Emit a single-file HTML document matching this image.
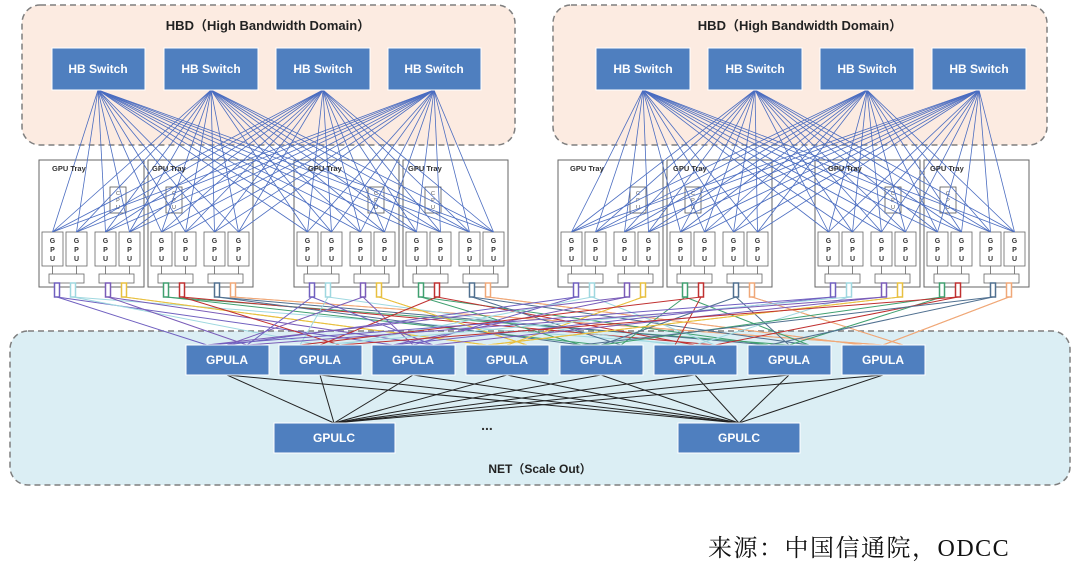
<!DOCTYPE html>
<html><head><meta charset="utf-8"><style>
body{margin:0;background:#fff;width:1080px;height:563px;overflow:hidden;font-family:"Liberation Sans","Noto Sans CJK SC",sans-serif}
</style></head><body>
<svg id="s" width="1080" height="563" xmlns="http://www.w3.org/2000/svg" font-family="Liberation Sans, Noto Sans CJK SC, sans-serif">
<rect x="22" y="5" width="493" height="140" rx="18" fill="#fcebe1" stroke="#7f7f7f" stroke-width="1.5" stroke-dasharray="6,4"/>
<rect x="553" y="5" width="494" height="140" rx="18" fill="#fcebe1" stroke="#7f7f7f" stroke-width="1.5" stroke-dasharray="6,4"/>
<text x="268" y="30" font-size="13" font-weight="bold" text-anchor="middle" fill="#222">HBD（High Bandwidth Domain）</text>
<text x="800" y="30" font-size="13" font-weight="bold" text-anchor="middle" fill="#222">HBD（High Bandwidth Domain）</text>
<rect x="10" y="331" width="1060" height="154" rx="18" fill="#dbeef4" stroke="#7f7f7f" stroke-width="1.5" stroke-dasharray="6,4"/>
<g id="trays"></g>
<g id="lines"></g>
<g id="boxes" font-size="12" font-weight="bold" fill="#fff" text-anchor="middle">
<rect x="52" y="48" width="93" height="42" fill="#4f7fbf" stroke="#fff"/><text x="98" y="73">HB Switch</text>
<rect x="164" y="48" width="94" height="42" fill="#4f7fbf" stroke="#fff"/><text x="211" y="73">HB Switch</text>
<rect x="276" y="48" width="94" height="42" fill="#4f7fbf" stroke="#fff"/><text x="323" y="73">HB Switch</text>
<rect x="388" y="48" width="93" height="42" fill="#4f7fbf" stroke="#fff"/><text x="434" y="73">HB Switch</text>
<rect x="596" y="48" width="94" height="42" fill="#4f7fbf" stroke="#fff"/><text x="643" y="73">HB Switch</text>
<rect x="708" y="48" width="94" height="42" fill="#4f7fbf" stroke="#fff"/><text x="755" y="73">HB Switch</text>
<rect x="820" y="48" width="94" height="42" fill="#4f7fbf" stroke="#fff"/><text x="867" y="73">HB Switch</text>
<rect x="932" y="48" width="94" height="42" fill="#4f7fbf" stroke="#fff"/><text x="979" y="73">HB Switch</text>
<rect x="186" y="345" width="83" height="30" fill="#4f7fbf" stroke="#fff"/><text x="227" y="364">GPULA</text>
<rect x="279" y="345" width="83" height="30" fill="#4f7fbf" stroke="#fff"/><text x="320" y="364">GPULA</text>
<rect x="372" y="345" width="83" height="30" fill="#4f7fbf" stroke="#fff"/><text x="413" y="364">GPULA</text>
<rect x="466" y="345" width="83" height="30" fill="#4f7fbf" stroke="#fff"/><text x="507" y="364">GPULA</text>
<rect x="560" y="345" width="83" height="30" fill="#4f7fbf" stroke="#fff"/><text x="601" y="364">GPULA</text>
<rect x="654" y="345" width="83" height="30" fill="#4f7fbf" stroke="#fff"/><text x="695" y="364">GPULA</text>
<rect x="748" y="345" width="83" height="30" fill="#4f7fbf" stroke="#fff"/><text x="789" y="364">GPULA</text>
<rect x="842" y="345" width="83" height="30" fill="#4f7fbf" stroke="#fff"/><text x="883" y="364">GPULA</text>
<rect x="274" y="423" width="121" height="30" fill="#4f7fbf" stroke="#fff"/><text x="334" y="442">GPULC</text>
<rect x="678" y="423" width="122" height="30" fill="#4f7fbf" stroke="#fff"/><text x="739" y="442">GPULC</text>
</g>
<text x="487" y="430" font-size="14" font-weight="bold" fill="#333" text-anchor="middle">...</text>
<text x="540" y="473" font-size="12" font-weight="bold" fill="#222" text-anchor="middle">NET（Scale Out）</text>
<g font-size="7.5" font-weight="bold" fill="#333">
<text x="52" y="171">GPU Tray</text><text x="152" y="171">GPU Tray</text><text x="308" y="171">GPU Tray</text><text x="408" y="171">GPU Tray</text>
<text x="570" y="171">GPU Tray</text><text x="673" y="171">GPU Tray</text><text x="828" y="171">GPU Tray</text><text x="930" y="171">GPU Tray</text>
</g>
<text x="708" y="556" font-size="24" letter-spacing="1.5" fill="#111" font-family="Liberation Serif, Noto Serif CJK SC, serif">来源：中国信通院，ODCC</text>
</svg>
<script>
var NS="http://www.w3.org/2000/svg";
function el(p,t,a){var e=document.createElementNS(NS,t);for(var k in a)e.setAttribute(k,a[k]);p.appendChild(e);return e;}
var trays=document.getElementById('trays'),lines=document.getElementById('lines');
var T=[[39,71],[148,18],[294,74],[403,22],[558,72],[667,18],[815,70],[924,16]];
var gpuOff=[3,27,56,80],gpus=[];
T.forEach(function(t,i){
 var x=t[0];
 el(trays,'rect',{x:x,y:160,width:105,height:127,fill:'#fff',stroke:'#666','stroke-width':1});
 el(trays,'rect',{x:x+t[1],y:187,width:16,height:26,fill:'#fff',stroke:'#555','stroke-width':0.8});
 ['C','P','U'].forEach(function(c,j){var tx=el(trays,'text',{x:x+t[1]+8,y:195+j*7,'font-size':5.5,'text-anchor':'middle',fill:'#555'});tx.textContent=c;});
 gpuOff.forEach(function(o){
  el(trays,'rect',{x:x+o,y:232,width:21,height:34,fill:'#fff',stroke:'#666','stroke-width':0.8});
  ['G','P','U'].forEach(function(c,j){var tx=el(trays,'text',{x:x+o+10.5,y:243+j*9,'font-size':7,'font-weight':'bold','text-anchor':'middle',fill:'#333'});tx.textContent=c;});
  gpus.push([x+o+10.5,232,i]);
  el(trays,'line',{x1:x+o+10.5,y1:266,x2:x+o+10.5,y2:274,stroke:'#666','stroke-width':0.8});
 });
 [10,60].forEach(function(b){el(trays,'rect',{x:x+b,y:274,width:35,height:9,fill:'#fff',stroke:'#666','stroke-width':0.8});});
});
var PC=['#7060c0','#9fd8e0','#7a5cb8','#e8c040','#40a070','#c03030','#507090','#f0a878'];
var pc=[];
T.forEach(function(t,i){[18,34,69,85].forEach(function(o,j){var c=PC[(i%2)*4+j];pc.push([t[0]+o,297,c]);
 el(trays,'rect',{x:t[0]+o-2.5,y:283,width:5,height:14,fill:'#fff',stroke:c,'stroke-width':1.5});});});
var HB=[98,211,323,434,643,755,867,979];
HB.forEach(function(h,si){gpus.forEach(function(g){if((g[2]<4)==(si<4))el(lines,'line',{x1:h,y1:90,x2:g[0],y2:g[1],stroke:'#4a6cc0','stroke-width':0.8});});});
var LA=[227,320,413,507,601,695,789,883];
pc.forEach(function(p,i){[i%8,(i*3+2)%8].forEach(function(k){el(lines,'line',{x1:p[0],y1:p[1],x2:LA[k]+((i%3)-1)*20,y2:345,stroke:p[2],'stroke-width':1});});});
LA.forEach(function(a){[334,739].forEach(function(c){el(lines,'line',{x1:a,y1:375,x2:c,y2:423,stroke:'#222','stroke-width':1});});});
</script>
</body></html>
